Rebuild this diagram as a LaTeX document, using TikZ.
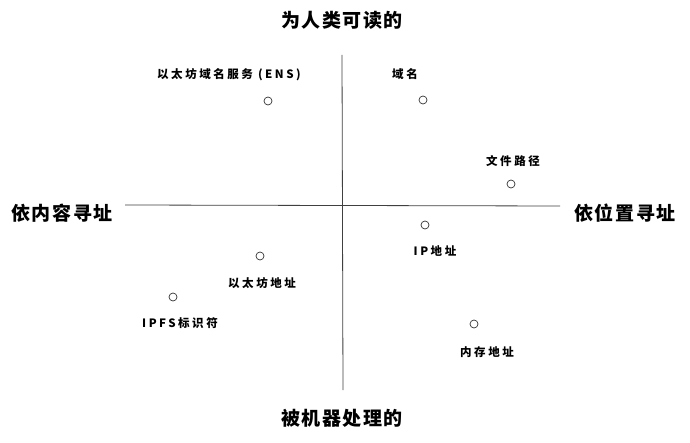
\documentclass[tikz,border=0pt]{standalone}
\usepackage{fontspec}
\setmainfont{Noto Sans CJK SC}
\newfontfamily\lblfont{Noto Sans CJK SC}[LetterSpace=22]
\newfontfamily\ttlfont{Noto Sans CJK SC}[LetterSpace=8]
\begin{document}
\begin{tikzpicture}[x=1pt,y=-1pt,
  axis/.style={draw=black!75,line width=0.8pt},
  pt/.style={circle,draw=black!80,line width=0.7pt,minimum size=8pt,inner sep=0pt},
  lbl/.style={font=\lblfont\fontsize{11.5}{13}\selectfont\bfseries,inner sep=1pt},
  ttl/.style={font=\ttlfont\fontsize{19}{22}\selectfont\bfseries,inner sep=1pt}]
\useasboundingbox[fill=white] (0,0) rectangle (690,443);
\coordinate (vt) at (342,55); \coordinate (vb) at (343,390);
\coordinate (hl) at (125,205); \coordinate (hr) at (560,206);
\draw[axis] (vt) -- (vb);
\draw[axis] (hl) -- (hr);
\node[ttl] (t) at (342,20) {为人类可读的};
\node[ttl] (b) at (342,418) {被机器处理的};
\node[ttl] (l) at (62,213) {依内容寻址};
\node[ttl] (r) at (625,213) {依位置寻址};
\node[pt] (p1) at (268,101) {}; \node[lbl] (l1) at (229,75) {以太坊域名服务 (ENS)};
\node[pt] (p2) at (423,100) {}; \node[lbl] (l2) at (405,74) {域名};
\node[pt] (p3) at (511,184) {}; \node[lbl] (l3) at (513,161) {文件路径};
\node[pt] (p4) at (425,225) {}; \node[lbl] (l4) at (435,251) {IP地址};
\node[pt] (p5) at (260,256) {}; \node[lbl] (l5) at (262,283) {以太坊地址};
\node[pt] (p6) at (173,297) {}; \node[lbl] (l6) at (180,323) {IPFS标识符};
\node[pt] (p7) at (474,324) {}; \node[lbl] (l7) at (487,352) {内存地址};
\end{tikzpicture}
\end{document}
